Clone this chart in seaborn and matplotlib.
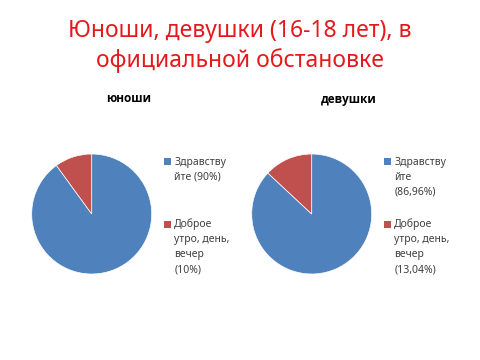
import matplotlib
matplotlib.use("Agg")
import matplotlib.pyplot as plt
import seaborn as sns
from matplotlib.patches import Rectangle

sns.set_theme(style="white")
plt.rcParams["font.family"] = ["Noto Sans", "DejaVu Sans"]

title_lines = ["Юноши, девушки (16-18 лет), в", "официальной обстановке"]
chart_titles = ["юноши", "девушки"]
boys_values = [90, 10]
girls_values = [86.96, 13.04]
boys_labels = ["Здравству\nйте (90%)", "Доброе\nутро, день,\nвечер\n(10%)"]
girls_labels = ["Здравству\nйте\n(86,96%)", "Доброе\nутро, день,\nвечер\n(13,04%)"]
colors = ["#4F81BD", "#C0504D"]

W, H = 480, 360
fig = plt.figure(figsize=(W / 100, H / 100), dpi=100)
fig.patch.set_facecolor("white")

title_color = "#E3191B"
fig.text(0.5, 1 - 31 / H, title_lines[0], ha="center", va="center",
         fontsize=16.5, color=title_color)
fig.text(0.5, 1 - 61 / H, title_lines[1], ha="center", va="center",
         fontsize=16.5, color=title_color)

panels = [
    (91.7, chart_titles[0], boys_values, boys_labels, 129),
    (311.7, chart_titles[1], girls_values, girls_labels, 349),
]
radius_px = 60
cy = 214
for cx, name, vals, labels, tx in panels:
    ax = fig.add_axes([(cx - radius_px) / W, (H - cy - radius_px) / H,
                       2 * radius_px / W, 2 * radius_px / H])
    ax.pie(vals, colors=colors, startangle=90, counterclock=False,
           wedgeprops=dict(linewidth=0.5, edgecolor="white"))
    ax.set_xlim(-1, 1)
    ax.set_ylim(-1, 1)
    ax.set_aspect("equal")
    ax.axis("off")

    fig.text(tx / W, 1 - 99 / H, name, ha="center", va="center",
             fontsize=8.5, fontweight="bold", color="black",
             family=["Open Sans", "DejaVu Sans"])

    # legend entries
    mx = cx + 72.5
    for lab, col, ly in zip(labels, colors, [162, 224]):
        fig.patches.append(Rectangle((mx / W, 1 - (ly + 3.5) / H), 7 / W, 7 / H,
                                     transform=fig.transFigure, facecolor=col,
                                     edgecolor="none"))
        fig.text((mx + 10) / W, 1 - (ly - 5.5) / H, lab, ha="left", va="top",
                 fontsize=7.5, color="#404040", linespacing=1.5)

fig.savefig("out.png", dpi=100, facecolor="white")
